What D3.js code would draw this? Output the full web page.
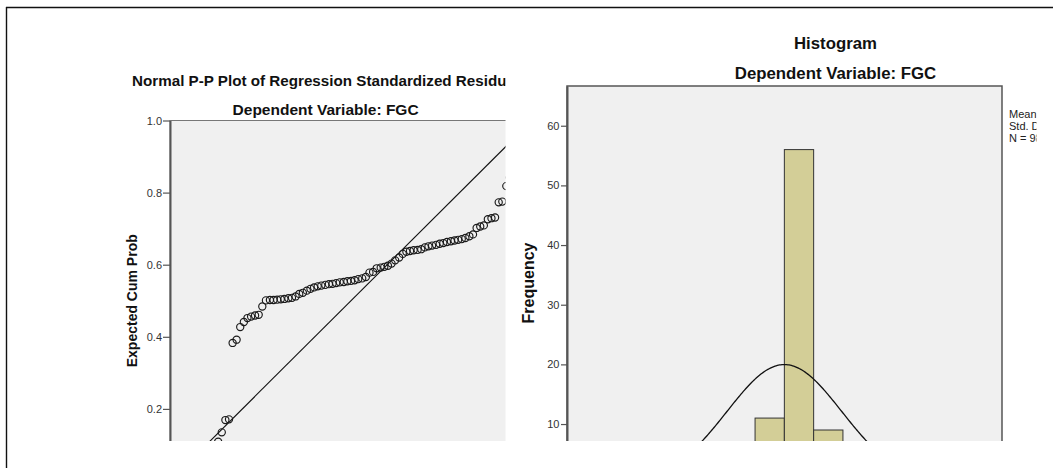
<!DOCTYPE html>
<html><head><meta charset="utf-8">
<script src="https://cdn.jsdelivr.net/npm/d3@7"></script>
<style>
html,body{margin:0;padding:0;background:#fff;}
svg{display:block;font-family:"Liberation Sans",Arial,sans-serif;}
</style></head><body>
<svg id="chart" width="1053" height="468"></svg>
<script>
// ---- P-P plot data (observed cum prob vs expected cum prob) ----
const ppObserved = [0.010,0.020,0.031,0.041,0.051,0.061,0.071,0.082,0.092,0.102,
0.112,0.122,0.133,0.143,0.153,0.163,0.173,0.184,0.194,0.204,
0.214,0.224,0.235,0.245,0.255,0.265,0.276,0.286,0.296,0.306,
0.316,0.327,0.337,0.347,0.357,0.367,0.378,0.388,0.398,0.408,
0.418,0.429,0.439,0.449,0.459,0.469,0.480,0.490,0.500,0.510,
0.520,0.531,0.541,0.551,0.561,0.571,0.582,0.592,0.602,0.612,
0.622,0.633,0.643,0.653,0.663,0.673,0.684,0.694,0.704,0.714,
0.724,0.735,0.745,0.755,0.765,0.776,0.786,0.796,0.806,0.816,
0.827,0.837,0.847,0.857,0.867,0.878,0.888,0.898,0.908,0.918,
0.929,0.939,0.949,0.959,0.969,0.980,0.990,1.000];
const ppExpected = [0.002,0.006,0.011,0.018,0.026,0.034,0.044,0.055,0.066,0.078,
0.089,0.099,0.109,0.135,0.169,0.171,0.383,0.392,0.427,0.441,
0.452,0.456,0.459,0.461,0.484,0.501,0.502,0.502,0.503,0.504,
0.505,0.507,0.508,0.512,0.519,0.522,0.528,0.533,0.537,0.540,
0.542,0.544,0.546,0.547,0.549,0.551,0.552,0.554,0.555,0.557,
0.560,0.562,0.566,0.578,0.580,0.590,0.592,0.594,0.597,0.603,
0.612,0.620,0.630,0.636,0.638,0.640,0.641,0.643,0.648,0.651,
0.653,0.655,0.658,0.660,0.663,0.665,0.667,0.669,0.671,0.674,
0.679,0.684,0.702,0.706,0.709,0.726,0.729,0.731,0.773,0.775,
0.818,0.842,0.866,0.893,0.921,0.948,0.974,0.993];
const ppTicks = [0.2,0.4,0.6,0.8,1.0];

// ---- Histogram data ----
const histBinStart = [-2.5,-2.0,-1.5,-1.0,-0.5,0.0,0.5,1.0,1.5,2.0];
const histCounts   = [2,3,5,6,11,56,9,3,2,1];
const histBinWidth = 0.5;
const histTicks = [10,20,30,40,50,60];
const histMean = 0.0, histStd = 0.979, histN = 98;
const legendLines = ["Mean = -1.61E-15","Std. Dev. = 0.979","N = 98"];

const svg = d3.select("#chart");
const defs = svg.append("defs");
defs.append("clipPath").attr("id","clipL").append("rect").attr("x",0).attr("y",0).attr("width",505.5).attr("height",441);
defs.append("clipPath").attr("id","clipR").append("rect").attr("x",506).attr("y",0).attr("width",530.5).attr("height",441);

// outer frame (top and left edges visible)
svg.append("line").attr("x1",6).attr("x2",1053).attr("y1",7.5).attr("y2",7.5).attr("stroke","#111").attr("stroke-width",1.4);
svg.append("line").attr("x1",6.5).attr("x2",6.5).attr("y1",7).attr("y2",468).attr("stroke","#111").attr("stroke-width",1.4);

// ================= LEFT: P-P plot =================
const L = svg.append("g").attr("clip-path","url(#clipL)");
const ppX = d3.scaleLinear().domain([0,1]).range([170,532]);
const ppY = d3.scaleLinear().domain([0,1]).range([481,120.5]);

L.append("rect").attr("x",ppX(0)).attr("y",ppY(1)).attr("width",ppX(1)-ppX(0)).attr("height",ppY(0)-ppY(1))
 .attr("fill","#f0f0f0").attr("stroke","#777").attr("stroke-width",1);

L.append("line").attr("x1",ppX(0)).attr("y1",ppY(0)).attr("x2",ppX(1)).attr("y2",ppY(1))
 .attr("stroke","#111").attr("stroke-width",1.1);

L.append("g").selectAll("circle").data(ppObserved).join("circle")
 .attr("cx",d=>ppX(d)).attr("cy",(d,i)=>ppY(ppExpected[i])).attr("r",3.6)
 .attr("fill","none").attr("stroke","#1a1a1a").attr("stroke-width",1.15);

const ax = L.append("g").attr("transform",`translate(${ppX(0)},0)`)
 .call(d3.axisLeft(ppY).tickValues(ppTicks).tickFormat(d3.format(".1f")).tickSize(7).tickSizeOuter(0).tickPadding(1));
ax.select(".domain").attr("stroke","#555").attr("stroke-width",2);
ax.selectAll(".tick line").attr("stroke","#555").attr("stroke-width",1.2);
ax.selectAll(".tick text").attr("fill","#333").style("font-size","11px").style("font-family","Liberation Sans, Arial, sans-serif");

L.append("text").attr("transform",`translate(137,${(ppY(0)+ppY(1))/2}) rotate(-90)`)
 .attr("text-anchor","middle").style("font-size","14px").style("font-weight","bold").attr("fill","#111")
 .text("Expected Cum Prob");

L.append("text").attr("x",325.6).attr("y",86).attr("text-anchor","middle")
 .style("font-size","15.2px").style("font-weight","bold").attr("fill","#111")
 .text("Normal P-P Plot of Regression Standardized Residual");
L.append("text").attr("x",325.6).attr("y",114.5).attr("text-anchor","middle")
 .style("font-size","15.5px").style("font-weight","bold").attr("fill","#111")
 .text("Dependent Variable: FGC");

// ================= RIGHT: Histogram =================
const R = svg.append("g").attr("clip-path","url(#clipR)");
const hX = d3.scaleLinear().domain([-3.71,3.715]).range([567,1002]);
const hY = d3.scaleLinear().domain([0,66.66]).range([483.7,86]);

R.append("rect").attr("x",hX.range()[0]).attr("y",hY.range()[1]).attr("width",hX.range()[1]-hX.range()[0]).attr("height",hY.range()[0]-hY.range()[1])
 .attr("fill","#f0f0f0").attr("stroke","#555").attr("stroke-width",1.5);

R.append("g").selectAll("rect").data(histCounts).join("rect")
 .attr("x",(d,i)=>hX(histBinStart[i])).attr("width",(d,i)=>hX(histBinStart[i]+histBinWidth)-hX(histBinStart[i]))
 .attr("y",d=>hY(d)).attr("height",d=>hY(0)-hY(d))
 .attr("fill","#d3ce97").attr("stroke","#333").attr("stroke-width",1);

const curvePts = d3.range(-3.7,3.71,0.02).map(x=>[x, histN*histBinWidth*Math.exp(-0.5*((x-histMean)/histStd)**2)/(histStd*Math.sqrt(2*Math.PI))]);
R.append("path").datum(curvePts)
 .attr("d",d3.line().x(d=>hX(d[0])).y(d=>hY(d[1])))
 .attr("fill","none").attr("stroke","#111").attr("stroke-width",1.3);

const hax = R.append("g").attr("transform",`translate(${hX.range()[0]},0)`)
 .call(d3.axisLeft(hY).tickValues(histTicks).tickSize(6).tickSizeOuter(0).tickPadding(1.5));
hax.select(".domain").attr("stroke","#555").attr("stroke-width",2);
hax.selectAll(".tick line").attr("stroke","#555").attr("stroke-width",1.2);
hax.selectAll(".tick text").attr("fill","#333").style("font-size","11px").style("font-family","Liberation Sans, Arial, sans-serif");

R.append("text").attr("transform",`translate(533.5,283) rotate(-90)`)
 .attr("text-anchor","middle").style("font-size","16px").style("font-weight","bold").attr("fill","#111")
 .text("Frequency");

R.append("text").attr("x",835.5).attr("y",49).attr("text-anchor","middle")
 .style("font-size","16.8px").style("font-weight","bold").attr("fill","#111").text("Histogram");
R.append("text").attr("x",835.5).attr("y",78.5).attr("text-anchor","middle")
 .style("font-size","16.8px").style("font-weight","bold").attr("fill","#111").text("Dependent Variable: FGC");

R.append("g").selectAll("text").data(legendLines).join("text")
 .attr("x",1009).attr("y",(d,i)=>118+i*11.8)
 .style("font-size","11px").attr("fill","#222").text(d=>d);
</script>
</body></html>
